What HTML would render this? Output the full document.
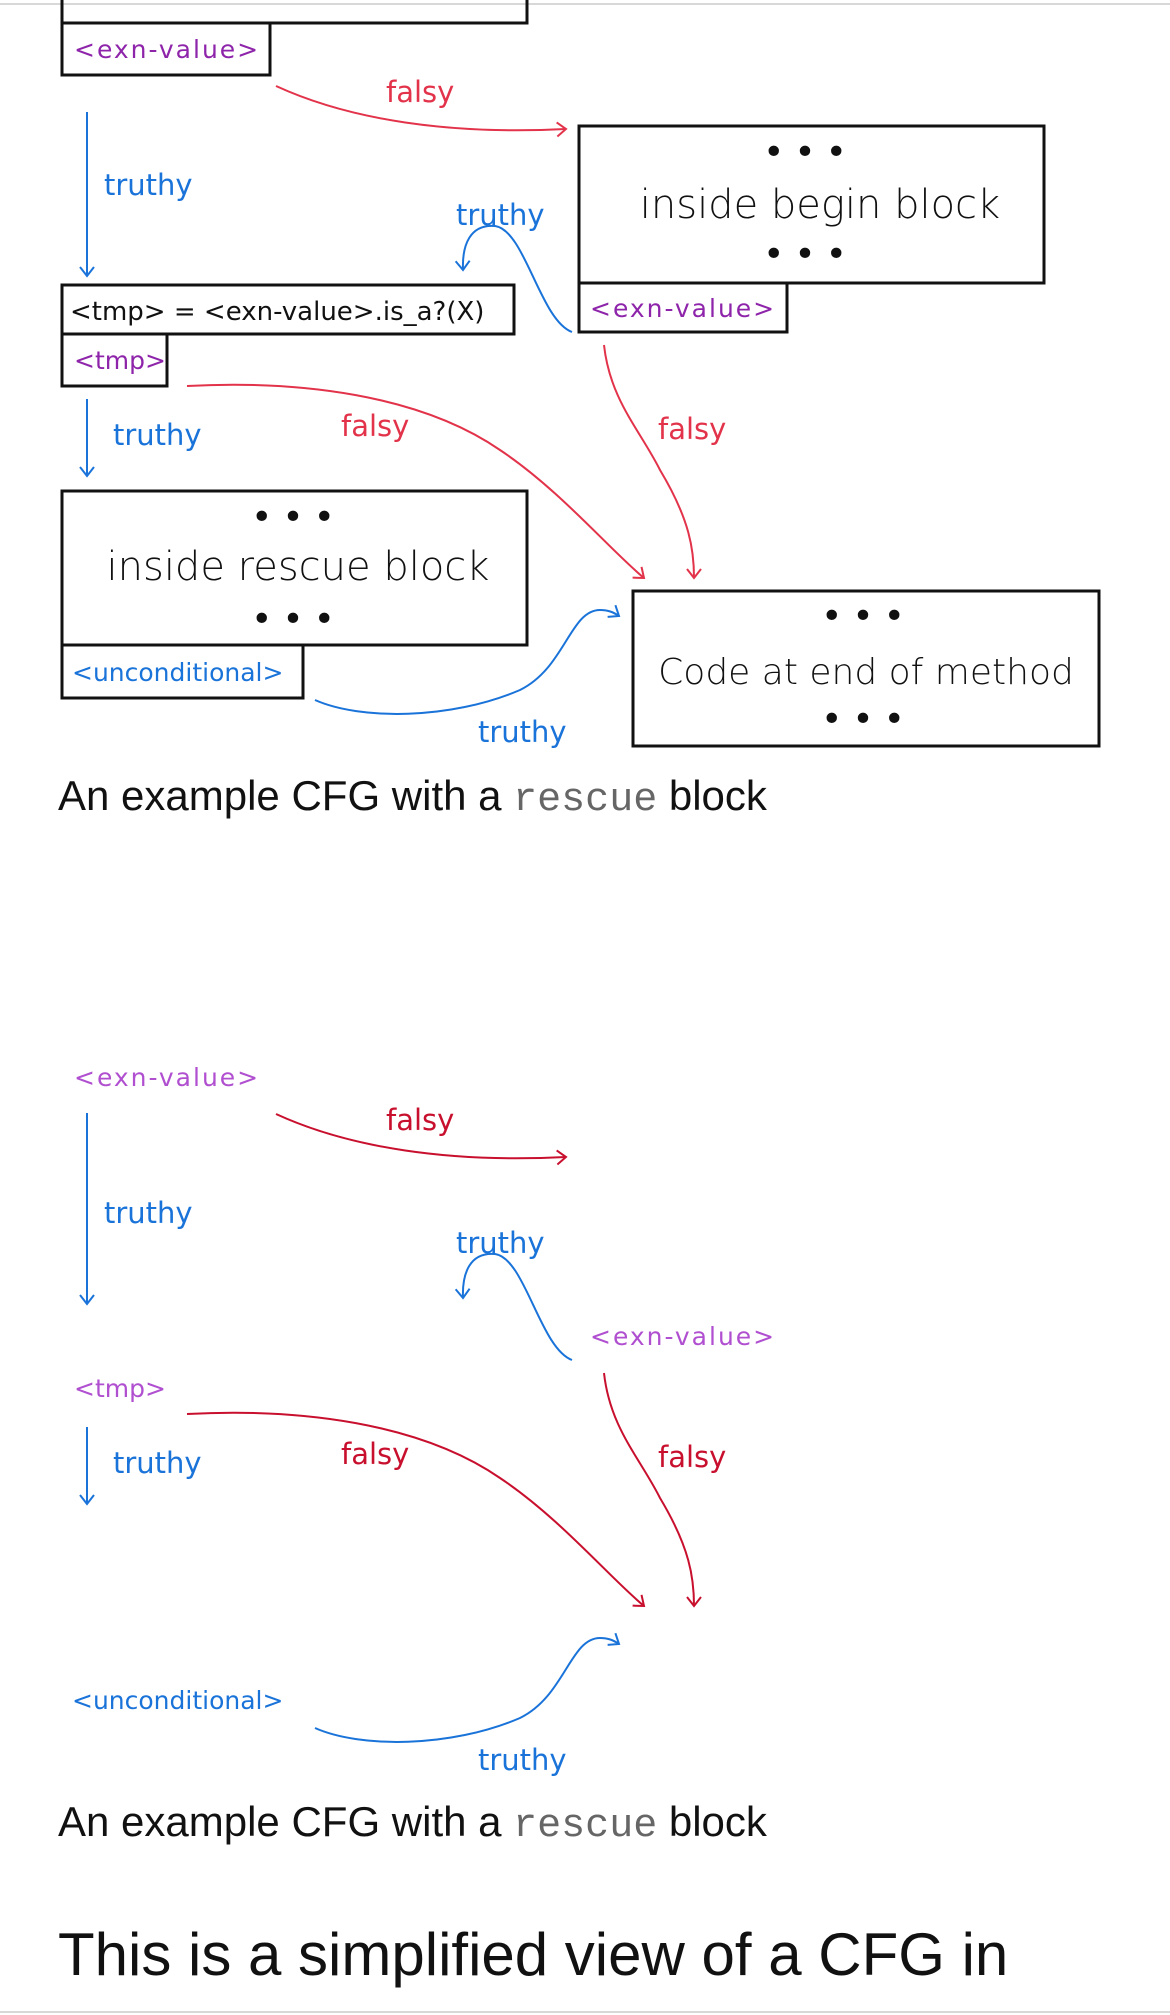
<!DOCTYPE html>
<html><head><meta charset="utf-8"><style>
html,body{margin:0;padding:0;background:#fff;width:1170px;height:2015px;overflow:hidden}
svg{position:absolute;left:0;top:0}
.cap{position:absolute;left:58px;font-family:"Liberation Sans",sans-serif;font-size:42px;color:#111;white-space:nowrap}
.cap code{font-family:"Liberation Mono",monospace;color:#666;font-size:40px}
.h{position:absolute;left:58px;top:1920px;font-family:"Liberation Sans",sans-serif;font-size:60px;color:#111;white-space:nowrap}
</style></head><body>
<svg width="1170" height="2015" viewBox="0 0 1170 2015" font-family="DejaVu Sans, sans-serif">
<defs>
<marker id="ab" markerWidth="16" markerHeight="16" refX="11" refY="8" orient="auto" markerUnits="userSpaceOnUse"><path d="M2,1 L11,8 L2,15" fill="none" stroke="#1a73d9" stroke-width="2"/></marker>
<marker id="ar" markerWidth="16" markerHeight="16" refX="11" refY="8" orient="auto" markerUnits="userSpaceOnUse"><path d="M2,1 L11,8 L2,15" fill="none" stroke="#e2334a" stroke-width="2"/></marker>
<marker id="ar2" markerWidth="16" markerHeight="16" refX="11" refY="8" orient="auto" markerUnits="userSpaceOnUse"><path d="M2,1 L11,8 L2,15" fill="none" stroke="#c8102e" stroke-width="2"/></marker>
</defs>
<line x1="0" y1="4" x2="1170" y2="4" stroke="#ccc" stroke-width="1.5"/>
<line x1="0" y1="2012" x2="1170" y2="2012" stroke="#ccc" stroke-width="1.5"/>

<g fill="none" stroke="#111" stroke-width="3">
<path d="M62,0 L62,23 L527,23 L527,0"/>
<rect x="62" y="23" width="208" height="52"/>
<rect x="579" y="126" width="465" height="157"/>
<rect x="579" y="283" width="208" height="49"/>
<rect x="62" y="285" width="452" height="49"/>
<rect x="62" y="334" width="105" height="52"/>
<rect x="62" y="491" width="465" height="154"/>
<rect x="62" y="645" width="241" height="53"/>
<rect x="633" y="591" width="466" height="155"/>
</g>
<g fill="#111">
<text x="810" y="164" text-anchor="middle" font-size="36" letter-spacing="10">•••</text>
<text x="810" y="266" text-anchor="middle" font-size="36" letter-spacing="10">•••</text>
<text x="820" y="218" text-anchor="middle" font-size="40" font-weight="300">inside  begin  block</text>
<text x="298" y="529" text-anchor="middle" font-size="36" letter-spacing="10">•••</text>
<text x="298" y="631" text-anchor="middle" font-size="36" letter-spacing="10">•••</text>
<text x="298" y="580" text-anchor="middle" font-size="40" font-weight="300">inside  rescue block</text>
<text x="868" y="628" text-anchor="middle" font-size="36" letter-spacing="10">•••</text>
<text x="868" y="731" text-anchor="middle" font-size="36" letter-spacing="10">•••</text>
<text x="866" y="684" text-anchor="middle" font-size="36" font-weight="300">Code at end of method</text>
<text x="70" y="320" font-size="26">&lt;tmp&gt; = &lt;exn-value&gt;.is_a?(X)</text>
</g>

<g font-size="25">
<text x="74" y="58" fill="#8e24aa" letter-spacing="2">&lt;exn-value&gt;</text>
<text x="590" y="317" fill="#8e24aa" letter-spacing="2">&lt;exn-value&gt;</text>
<text x="74" y="369" fill="#8e24aa">&lt;tmp&gt;</text>
<text x="72" y="681" fill="#1a73d9">&lt;unconditional&gt;</text>
</g>
<g font-size="29">
<text x="104" y="195" fill="#1a73d9">truthy</text>
<text x="456" y="225" fill="#1a73d9">truthy</text>
<text x="113" y="445" fill="#1a73d9">truthy</text>
<text x="478" y="742" fill="#1a73d9">truthy</text>
<text x="386" y="102" fill="#e2334a">falsy</text>
<text x="341" y="436" fill="#e2334a">falsy</text>
<text x="658" y="439" fill="#e2334a">falsy</text>
</g>
<g fill="none" stroke-width="2">
<path d="M87,112 L87,276" stroke="#1a73d9" marker-end="url(#ab)"/>
<path d="M87,399 L87,476" stroke="#1a73d9" marker-end="url(#ab)"/>
<path d="M572,332 C540,320 525,230 495,226 C470,224 462,245 463,270" stroke="#1a73d9" marker-end="url(#ab)"/>
<path d="M315,700 C360,720 450,720 520,690 C565,668 570,610 600,610 C608,610 613,612 619,616" stroke="#1a73d9" marker-end="url(#ab)"/>
</g>
<g fill="none" stroke="#e2334a" stroke-width="2">
<path d="M276,86 C350,120 450,135 566,129" marker-end="url(#ar)"/>
<path d="M187,386 C300,380 420,395 500,450 C560,490 610,550 644,578" marker-end="url(#ar)"/>
<path d="M604,345 C610,400 640,430 660,470 C690,520 694,550 694,578" marker-end="url(#ar)"/>
</g>

<g transform="translate(0,1028)">
<g font-size="25">
<text x="74" y="58" fill="#b04fd0" letter-spacing="2">&lt;exn-value&gt;</text>
<text x="590" y="317" fill="#b04fd0" letter-spacing="2">&lt;exn-value&gt;</text>
<text x="74" y="369" fill="#b04fd0">&lt;tmp&gt;</text>
<text x="72" y="681" fill="#1a73d9">&lt;unconditional&gt;</text>
</g>
<g font-size="29">
<text x="104" y="195" fill="#1a73d9">truthy</text>
<text x="456" y="225" fill="#1a73d9">truthy</text>
<text x="113" y="445" fill="#1a73d9">truthy</text>
<text x="478" y="742" fill="#1a73d9">truthy</text>
<text x="386" y="102" fill="#c8102e">falsy</text>
<text x="341" y="436" fill="#c8102e">falsy</text>
<text x="658" y="439" fill="#c8102e">falsy</text>
</g>
<g fill="none" stroke-width="2">
<path d="M87,85 L87,276" stroke="#1a73d9" marker-end="url(#ab)"/>
<path d="M87,399 L87,476" stroke="#1a73d9" marker-end="url(#ab)"/>
<path d="M572,332 C540,320 525,230 495,226 C470,224 462,245 463,270" stroke="#1a73d9" marker-end="url(#ab)"/>
<path d="M315,700 C360,720 450,720 520,690 C565,668 570,610 600,610 C608,610 613,612 619,616" stroke="#1a73d9" marker-end="url(#ab)"/>
</g>
<g fill="none" stroke="#c8102e" stroke-width="2">
<path d="M276,86 C350,120 450,135 566,129" marker-end="url(#ar2)"/>
<path d="M187,386 C300,380 420,395 500,450 C560,490 610,550 644,578" marker-end="url(#ar2)"/>
<path d="M604,345 C610,400 640,430 660,470 C690,520 694,550 694,578" marker-end="url(#ar2)"/>
</g>
</g>
</svg>
<div class="cap" style="top:772px">An example CFG with a <code>rescue</code> block</div>
<div class="cap" style="top:1798px">An example CFG with a <code>rescue</code> block</div>
<div class="h">This is a simplified view of a CFG in</div>
</body></html>
